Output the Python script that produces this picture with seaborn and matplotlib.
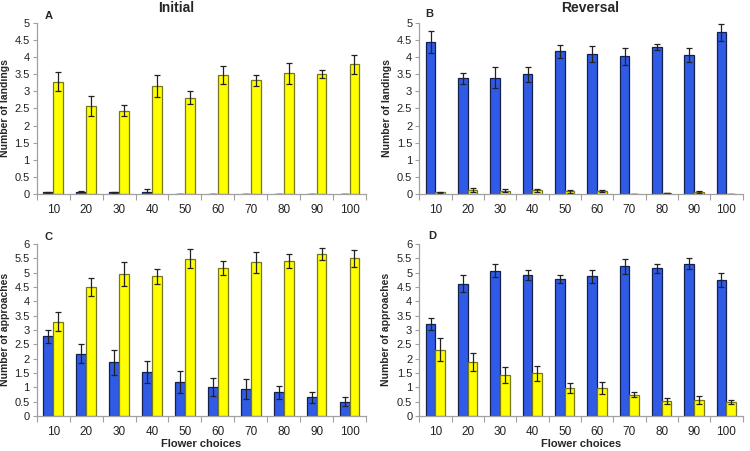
import numpy as np
import pandas as pd
import matplotlib
matplotlib.use("Agg")
import matplotlib.pyplot as plt
import seaborn as sns

choices = ['10', '20', '30', '40', '50', '60', '70', '80', '90', '100']

# A - Initial, landings
a_blue = [0.05, 0.07, 0.05, 0.05, 0.01, 0.01, 0.0, 0.01, 0.0, 0.01]
a_blue_err = [0.02, 0.02, 0.02, 0.08, 0.0, 0.0, 0.0, 0.0, 0.0, 0.0]
a_yel = [3.28, 2.58, 2.44, 3.15, 2.82, 3.47, 3.32, 3.53, 3.50, 3.79]
a_yel_err = [0.28, 0.29, 0.15, 0.32, 0.18, 0.26, 0.15, 0.30, 0.12, 0.28]

# B - Reversal, landings
b_blue = [4.45, 3.38, 3.40, 3.50, 4.17, 4.10, 4.03, 4.30, 4.07, 4.73]
b_blue_err = [0.32, 0.17, 0.30, 0.22, 0.20, 0.23, 0.25, 0.10, 0.20, 0.25]
b_yel = [0.05, 0.11, 0.10, 0.11, 0.08, 0.09, 0.01, 0.02, 0.07, 0.01]
b_yel_err = [0.02, 0.06, 0.03, 0.04, 0.04, 0.03, 0.0, 0.0, 0.03, 0.0]

# C - Initial, approaches
c_blue = [2.77, 2.17, 1.87, 1.52, 1.19, 1.01, 0.94, 0.82, 0.64, 0.50]
c_blue_err = [0.23, 0.33, 0.43, 0.38, 0.38, 0.31, 0.35, 0.22, 0.20, 0.16]
c_yel = [3.29, 4.51, 4.94, 4.88, 5.49, 5.16, 5.36, 5.41, 5.65, 5.50]
c_yel_err = [0.32, 0.31, 0.42, 0.26, 0.34, 0.25, 0.37, 0.24, 0.22, 0.29]

# D - Reversal, approaches
d_blue = [3.20, 4.62, 5.07, 4.93, 4.78, 4.87, 5.22, 5.15, 5.31, 4.75]
d_blue_err = [0.22, 0.31, 0.23, 0.17, 0.13, 0.22, 0.26, 0.15, 0.20, 0.24]
d_yel = [2.31, 1.88, 1.42, 1.48, 0.97, 0.97, 0.74, 0.51, 0.55, 0.49]
d_yel_err = [0.41, 0.30, 0.28, 0.25, 0.18, 0.20, 0.10, 0.10, 0.15, 0.06]

cor_azul = '#2f5be6'
cor_amarelo = '#ffff00'
borda_azul = '#15204a'
borda_amarelo = '#77771c'

sns.set_style('white')
plt.rcParams['font.family'] = ['Liberation Sans', 'DejaVu Sans']

fig = plt.figure(figsize=(7.5, 4.51), dpi=100)


def painel(pos, azul, azul_err, amarelo, amarelo_err, ymax, ylabel, ylab_x,
           xlabel=None):
    ax = fig.add_axes(pos)
    df = pd.DataFrame({
        'Escolha': choices * 2,
        'Valor': azul + amarelo,
        'Cor': ['azul'] * 10 + ['amarelo'] * 10,
    })
    sns.barplot(data=df, x='Escolha', y='Valor', hue='Cor', order=choices,
                hue_order=['azul', 'amarelo'],
                palette={'azul': cor_azul, 'amarelo': cor_amarelo},
                width=0.6, gap=0, errorbar=None, legend=False, ax=ax,
                saturation=1)
    # bordas e barras de erro
    for cont, err, borda in zip(ax.containers, [azul_err, amarelo_err],
                                [borda_azul, borda_amarelo]):
        xs, hs = [], []
        for b in cont:
            b.set_edgecolor(borda)
            b.set_linewidth(0.9)
            xs.append(b.get_x() + b.get_width() / 2)
            hs.append(b.get_height())
        ax.errorbar(xs, hs, yerr=err, fmt='none', ecolor='#222222',
                    elinewidth=0.9, capsize=2.5, capthick=0.9)
    ax.set_xlim(-0.5, 9.5)
    ax.set_ylim(0, ymax)
    ax.set_yticks(np.arange(0, ymax + 0.01, 0.5))
    ax.set_yticklabels(['%g' % v for v in np.arange(0, ymax + 0.01, 0.5)])
    ax.set_xticks(range(10))
    ax.set_xticklabels(choices)
    ax.set_xticks(np.arange(-0.5, 10, 1), minor=True)
    ax.tick_params(axis='x', which='major', length=0, pad=7, labelsize=8.5,
                   labelcolor='#222222')
    ax.tick_params(axis='x', which='minor', length=4, width=0.8,
                   color='#a0a0a0', direction='out', bottom=True)
    ax.tick_params(axis='y', length=3, width=0.8, color='#a0a0a0',
                   direction='out', left=True, labelsize=8,
                   labelcolor='#222222', pad=2)
    for s in ['top', 'right']:
        ax.spines[s].set_visible(False)
    for s in ['left', 'bottom']:
        ax.spines[s].set_color('#a0a0a0')
        ax.spines[s].set_linewidth(0.9)
    ax.set_ylabel(ylabel, fontsize=7.5, fontweight='bold')
    ax.yaxis.set_label_coords(ylab_x, 0.5)
    if xlabel:
        ax.set_xlabel(xlabel, fontsize=8, fontweight='bold')
        ax.xaxis.set_label_coords(0.5, -0.135)
    else:
        ax.set_xlabel('')
    return ax


painel([0.049, 0.570, 0.439, 0.379], a_blue, a_blue_err, a_yel, a_yel_err,
       5, 'Number of landings', -0.08)
painel([0.559, 0.570, 0.431, 0.379], b_blue, b_blue_err, b_yel, b_yel_err,
       5, 'Number of landings', -0.085)
painel([0.049, 0.078, 0.439, 0.381], c_blue, c_blue_err, c_yel, c_yel_err,
       6, 'Number of approaches', -0.08, 'Flower choices')
painel([0.559, 0.078, 0.431, 0.381], d_blue, d_blue_err, d_yel, d_yel_err,
       6, 'Number of approaches', -0.088, 'Flower choices')

fig.text(0.235, 0.982, 'Initial', ha='center', va='center', fontsize=10,
         fontweight='bold')
fig.text(0.787, 0.982, 'Reversal', ha='center', va='center', fontsize=10,
         fontweight='bold')
for letra, x, y in [('A', 0.065, 0.965), ('B', 0.572, 0.968),
                    ('C', 0.065, 0.475), ('D', 0.576, 0.477)]:
    fig.text(x, y, letra, ha='center', va='center', fontsize=8,
             fontweight='bold')

plt.savefig('out.png', dpi=100)
